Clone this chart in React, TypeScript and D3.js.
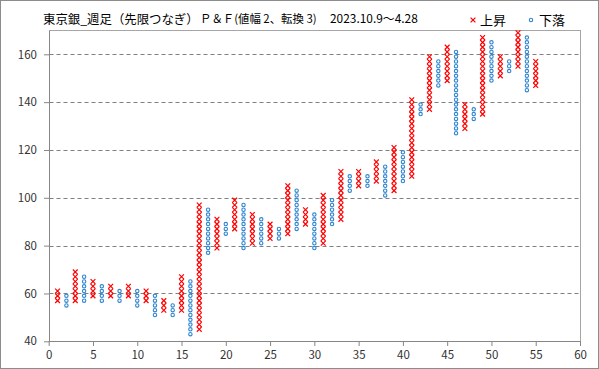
import { useEffect, useRef } from "react";
import * as d3 from "d3";

// P&F columns (box 2, reversal 3). Column 1 is an X column, then they alternate X / O.
const BOX = 2;
const colHigh = [
  61, 59, 69, 67, 65, 63, 63, 61, 63, 61,
  61, 59, 57, 55, 67, 65, 97, 95, 91, 89,
  99, 97, 93, 91, 89, 87, 105, 103, 95, 93,
  101, 99, 111, 109, 111, 109, 115, 113, 121, 119,
  141, 139, 159, 157, 163, 161, 139, 137, 167, 165,
  159, 157, 169, 167, 157,
];
const colLow = [
  57, 55, 57, 57, 59, 57, 59, 57, 59, 55,
  57, 51, 53, 51, 53, 43, 45, 77, 79, 85,
  87, 79, 81, 81, 83, 83, 85, 87, 89, 79,
  81, 89, 91, 103, 105, 105, 107, 101, 103, 107,
  109, 135, 137, 147, 149, 127, 129, 133, 135, 149,
  151, 153, 155, 145, 147,
];

const xTicks = [0, 5, 10, 15, 20, 25, 30, 35, 40, 45, 50, 55, 60];
const yTicks = [40, 60, 80, 100, 120, 140, 160];
const gridValues = [60, 80, 100, 120, 140, 160];

const titleMain = "東京銀_週足（先限つなぎ）";
const titleSub = "Ｐ＆Ｆ(値幅 2、転換 3)";
const titleDate = "2023.10.9～4.28";
const legendUp = "上昇";
const legendDown = "下落";

const RED = "#ff0000";
const BLUE = "#2e86d1";
const FONT = "'Noto Sans CJK JP', 'Noto Sans', sans-serif";

export default function App() {
  const svgRef = useRef<SVGSVGElement>(null);

  useEffect(() => {
    if (!svgRef.current) return;
    const width = 599;
    const height = 369;

    const svg = d3.select(svgRef.current);
    svg.selectAll("*").remove();

    const x = d3.scaleLinear().domain([0, 60]).range([48.7, 580]);
    const y = d3.scaleLinear().domain([40, 170]).range([341.3, 30.4]);
    const crisp = (v: number) => Math.round(v) + 0.5;

    // chart background + outer frame
    svg
      .append("rect")
      .attr("x", 0.5)
      .attr("y", 0.5)
      .attr("width", width - 1)
      .attr("height", height - 1)
      .attr("fill", "#fff")
      .attr("stroke", "#8c8c8c");

    // plot area frame
    const px0 = crisp(x(0));
    const px1 = crisp(x(60));
    const py0 = crisp(y(170));
    const py1 = crisp(y(40));
    svg
      .append("rect")
      .attr("x", px0)
      .attr("y", py0)
      .attr("width", px1 - px0)
      .attr("height", py1 - py0)
      .attr("fill", "none")
      .attr("stroke", "#a6a6a6");

    // dashed gridlines
    svg
      .append("g")
      .selectAll("line")
      .data(gridValues)
      .join("line")
      .attr("x1", px0)
      .attr("x2", px1)
      .attr("y1", (d) => crisp(y(d)))
      .attr("y2", (d) => crisp(y(d)))
      .attr("stroke", "#808080")
      .attr("stroke-dasharray", "4,3");

    // axes
    const yAxis = d3
      .axisLeft(y)
      .tickValues(yTicks)
      .tickSize(5)
      .tickSizeOuter(0)
      .tickPadding(7);
    const xAxis = d3
      .axisBottom(x)
      .tickValues(xTicks)
      .tickSize(5)
      .tickSizeOuter(0)
      .tickPadding(5);

    const gy = svg
      .append("g")
      .attr("transform", `translate(${px0 - 0.5},0)`)
      .call(yAxis);
    const gx = svg
      .append("g")
      .attr("transform", `translate(0,${py1 - 0.5})`)
      .call(xAxis);

    [gx, gy].forEach((g) => {
      g.select(".domain").attr("stroke", "#868686");
      g.selectAll(".tick line").attr("stroke", "#868686");
      g.selectAll(".tick text")
        .attr("fill", "#333")
        .style("font-family", FONT)
        .style("font-size", "11.5px");
    });

    // marks
    const marks: { i: number; v: number; up: boolean }[] = [];
    colHigh.forEach((hi, k) => {
      const lo = colLow[k];
      for (let v = lo; v <= hi; v += BOX) {
        marks.push({ i: k + 1, v, up: k % 2 === 0 });
      }
    });

    const s = 2.4;
    const cross = `M${-s},${-s}L${s},${s}M${-s},${s}L${s},${-s}`;

    svg
      .append("g")
      .selectAll("path")
      .data(marks.filter((m) => m.up))
      .join("path")
      .attr("transform", (d) => `translate(${x(d.i)},${y(d.v)})`)
      .attr("d", cross)
      .attr("stroke", RED)
      .attr("stroke-width", 1.2)
      .attr("fill", "none");

    svg
      .append("g")
      .selectAll("circle")
      .data(marks.filter((m) => !m.up))
      .join("circle")
      .attr("cx", (d) => x(d.i))
      .attr("cy", (d) => y(d.v))
      .attr("r", 1.7)
      .attr("fill", "#fff")
      .attr("stroke", BLUE)
      .attr("stroke-width", 1.1);

    // title
    const title = svg.append("g").style("font-family", FONT).attr("fill", "#000");
    title
      .append("text")
      .attr("x", 43)
      .attr("y", 23.5)
      .style("font-size", "12.4px")
      .text(titleMain);
    title
      .append("text")
      .attr("x", 200)
      .attr("y", 23)
      .style("font-size", "11.4px")
      .text(titleSub);
    title
      .append("text")
      .attr("x", 330)
      .attr("y", 23)
      .style("font-size", "11.9px")
      .text(titleDate);

    // legend
    const legend = svg.append("g").style("font-family", FONT);
    legend
      .append("path")
      .attr("transform", "translate(473,20)")
      .attr("d", cross)
      .attr("stroke", RED)
      .attr("stroke-width", 1.2)
      .attr("fill", "none");
    legend
      .append("text")
      .attr("x", 480)
      .attr("y", 24.5)
      .style("font-size", "13px")
      .text(legendUp);
    legend
      .append("circle")
      .attr("cx", 531)
      .attr("cy", 20)
      .attr("r", 1.7)
      .attr("fill", "#fff")
      .attr("stroke", BLUE)
      .attr("stroke-width", 1.1);
    legend
      .append("text")
      .attr("x", 539)
      .attr("y", 24.5)
      .style("font-size", "13px")
      .text(legendDown);
  }, []);

  return (
    <svg
      ref={svgRef}
      width={599}
      height={369}
      style={{ position: "absolute", left: 0, top: 0, background: "#fff" }}
    />
  );
}
